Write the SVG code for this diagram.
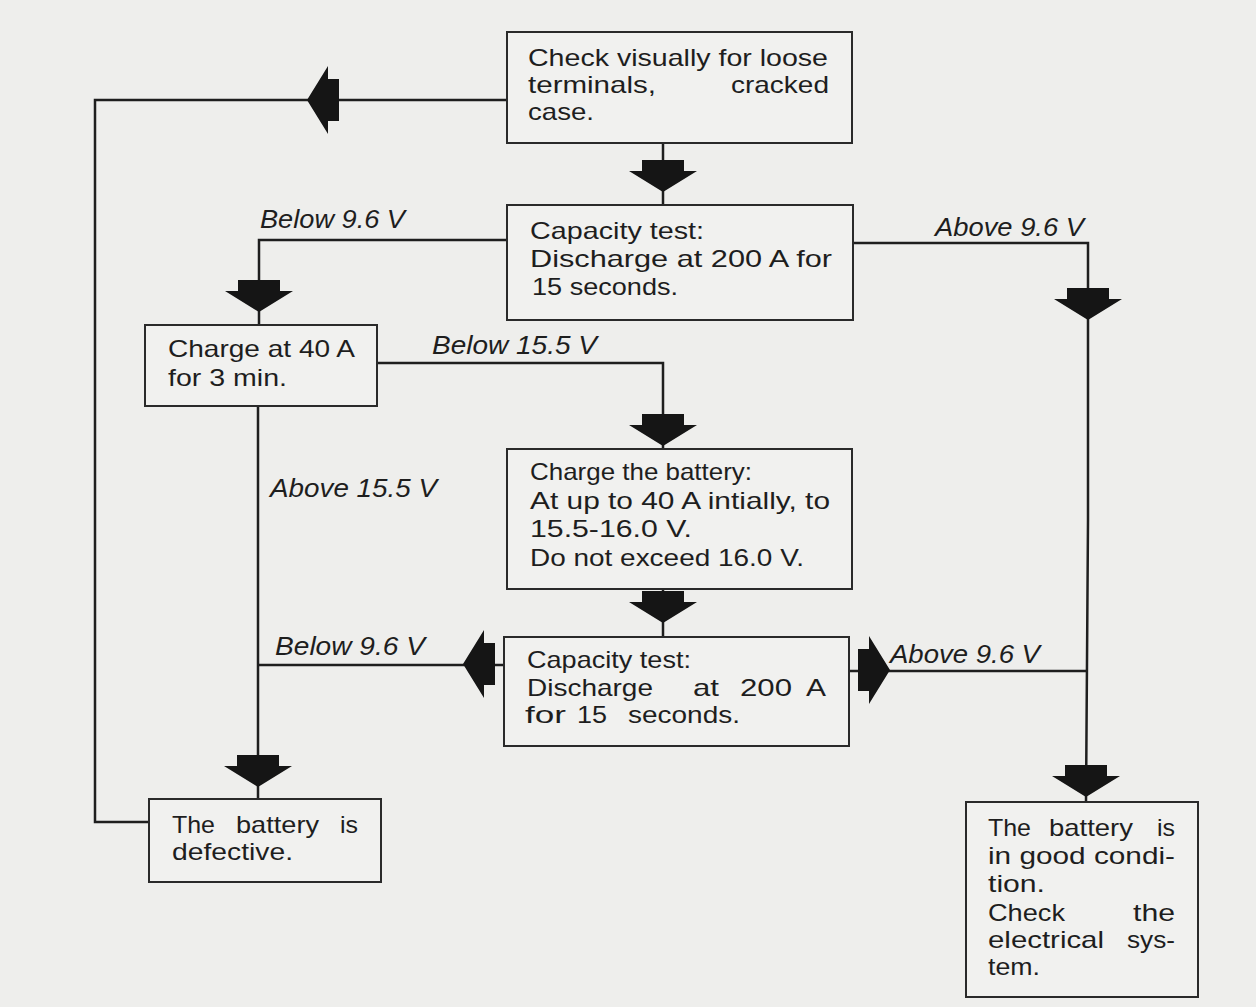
<svg xmlns="http://www.w3.org/2000/svg" width="1256" height="1007" viewBox="0 0 1256 1007">
<style>
.bg{fill:#eeeeec}
.box{fill:#f1f1ef;stroke:#2a2a2a;stroke-width:2}
.ln{fill:none;stroke:#1e1e1e;stroke-width:2.5}
.t{font-family:"Liberation Sans",Arial,sans-serif;font-size:24px;fill:#1e1e1e}
.lb{font-family:"Liberation Sans",Arial,sans-serif;font-size:25px;font-style:italic;fill:#1e1e1e}
.ah{fill:#151515}
</style>
<defs>
<path id="ah" d="M-21,-32 H21 V-21 H34 L0,0 L-34,-21 H-21 Z"/>
</defs>
<rect class="bg" x="0" y="0" width="1256" height="1007"/>

<g id="connectors">
<path class="ln" d="M507,100 H95 V822 H149"/>
<use href="#ah" class="ah" transform="translate(307,100) rotate(90)"/>
<path class="ln" d="M663,143 V205"/>
<use href="#ah" class="ah" transform="translate(663,192)"/>
<path class="ln" d="M507,240 H259 V325"/>
<use href="#ah" class="ah" transform="translate(259,312)"/>
<path class="ln" d="M853,243 H1088 V520 L1086,802"/>
<use href="#ah" class="ah" transform="translate(1088,320)"/>
<use href="#ah" class="ah" transform="translate(1086,797)"/>
<path class="ln" d="M377,363 H663 V448"/>
<use href="#ah" class="ah" transform="translate(663,446)"/>
<path class="ln" d="M258,406 V799"/>
<use href="#ah" class="ah" transform="translate(258,787)"/>
<path class="ln" d="M663,589 V637"/>
<use href="#ah" class="ah" transform="translate(663,623)"/>
<path class="ln" d="M504,665 H258"/>
<use href="#ah" class="ah" transform="translate(463,664) rotate(90)"/>
<path class="ln" d="M849,671 H1087"/>
<use href="#ah" class="ah" transform="translate(890,670) rotate(-90)"/>
<text class="lb" x="260" y="228" textLength="145" lengthAdjust="spacingAndGlyphs">Below 9.6 V</text>
<text class="lb" x="935" y="236" textLength="149" lengthAdjust="spacingAndGlyphs">Above 9.6 V</text>
<text class="lb" x="432" y="354" textLength="165" lengthAdjust="spacingAndGlyphs">Below 15.5 V</text>
<text class="lb" x="270" y="497" textLength="167" lengthAdjust="spacingAndGlyphs">Above 15.5 V</text>
<text class="lb" x="275" y="655" textLength="150" lengthAdjust="spacingAndGlyphs">Below 9.6 V</text>
<text class="lb" x="890" y="663" textLength="150" lengthAdjust="spacingAndGlyphs">Above 9.6 V</text>
</g>

<g id="n1">
<rect class="box" x="507" y="32" width="345" height="111"/>
<text class="t" x="528" y="66" textLength="300" lengthAdjust="spacingAndGlyphs">Check visually for loose</text>
<text class="t" x="528" y="93" textLength="128" lengthAdjust="spacingAndGlyphs">terminals,</text>
<text class="t" x="731" y="93" textLength="98" lengthAdjust="spacingAndGlyphs">cracked</text>
<text class="t" x="528" y="120" textLength="66" lengthAdjust="spacingAndGlyphs">case.</text>
</g>

<g id="n2">
<rect class="box" x="507" y="205" width="346" height="115"/>
<text class="t" x="530" y="239" textLength="174" lengthAdjust="spacingAndGlyphs">Capacity test:</text>
<text class="t" x="530" y="267" textLength="302" lengthAdjust="spacingAndGlyphs">Discharge at 200 A for</text>
<text class="t" x="532" y="295" textLength="146" lengthAdjust="spacingAndGlyphs">15 seconds.</text>
</g>

<g id="n3">
<rect class="box" x="145" y="325" width="232" height="81"/>
<text class="t" x="168" y="357" textLength="187" lengthAdjust="spacingAndGlyphs">Charge at 40 A</text>
<text class="t" x="168" y="386" textLength="119" lengthAdjust="spacingAndGlyphs">for 3 min.</text>
</g>

<g id="n4">
<rect class="box" x="507" y="449" width="345" height="140"/>
<text class="t" x="530" y="480" textLength="222" lengthAdjust="spacingAndGlyphs">Charge the battery:</text>
<text class="t" x="530" y="509" textLength="300" lengthAdjust="spacingAndGlyphs">At up to 40 A intially, to</text>
<text class="t" x="530" y="537" textLength="162" lengthAdjust="spacingAndGlyphs">15.5-16.0 V.</text>
<text class="t" x="530" y="566" textLength="274" lengthAdjust="spacingAndGlyphs">Do not exceed 16.0 V.</text>
</g>

<g id="n5">
<rect class="box" x="504" y="637" width="345" height="109"/>
<text class="t" x="527" y="668" textLength="164" lengthAdjust="spacingAndGlyphs">Capacity test:</text>
<text class="t" x="527" y="696" textLength="126" lengthAdjust="spacingAndGlyphs">Discharge</text>
<text class="t" x="693" y="696" textLength="26" lengthAdjust="spacingAndGlyphs">at</text>
<text class="t" x="740" y="696" textLength="52" lengthAdjust="spacingAndGlyphs">200</text>
<text class="t" x="806" y="696" textLength="20" lengthAdjust="spacingAndGlyphs">A</text>
<text class="t" x="525" y="723" textLength="41" lengthAdjust="spacingAndGlyphs">for</text>
<text class="t" x="577" y="723" textLength="30" lengthAdjust="spacingAndGlyphs">15</text>
<text class="t" x="628" y="723" textLength="112" lengthAdjust="spacingAndGlyphs">seconds.</text>
</g>

<g id="n6">
<rect class="box" x="149" y="799" width="232" height="83"/>
<text class="t" x="172" y="833" textLength="43" lengthAdjust="spacingAndGlyphs">The</text>
<text class="t" x="236" y="833" textLength="83" lengthAdjust="spacingAndGlyphs">battery</text>
<text class="t" x="340" y="833" textLength="18" lengthAdjust="spacingAndGlyphs">is</text>
<text class="t" x="172" y="860" textLength="121" lengthAdjust="spacingAndGlyphs">defective.</text>
</g>

<g id="n7">
<rect class="box" x="966" y="802" width="232" height="195"/>
<text class="t" x="988" y="836" textLength="43" lengthAdjust="spacingAndGlyphs">The</text>
<text class="t" x="1049" y="836" textLength="84" lengthAdjust="spacingAndGlyphs">battery</text>
<text class="t" x="1157" y="836" textLength="18" lengthAdjust="spacingAndGlyphs">is</text>
<text class="t" x="988" y="864" textLength="187" lengthAdjust="spacingAndGlyphs">in good condi-</text>
<text class="t" x="988" y="892" textLength="57" lengthAdjust="spacingAndGlyphs">tion.</text>
<text class="t" x="988" y="921" textLength="77" lengthAdjust="spacingAndGlyphs">Check</text>
<text class="t" x="1133" y="921" textLength="42" lengthAdjust="spacingAndGlyphs">the</text>
<text class="t" x="988" y="948" textLength="116" lengthAdjust="spacingAndGlyphs">electrical</text>
<text class="t" x="1127" y="948" textLength="48" lengthAdjust="spacingAndGlyphs">sys-</text>
<text class="t" x="988" y="975" textLength="52" lengthAdjust="spacingAndGlyphs">tem.</text>
</g>
</svg>
